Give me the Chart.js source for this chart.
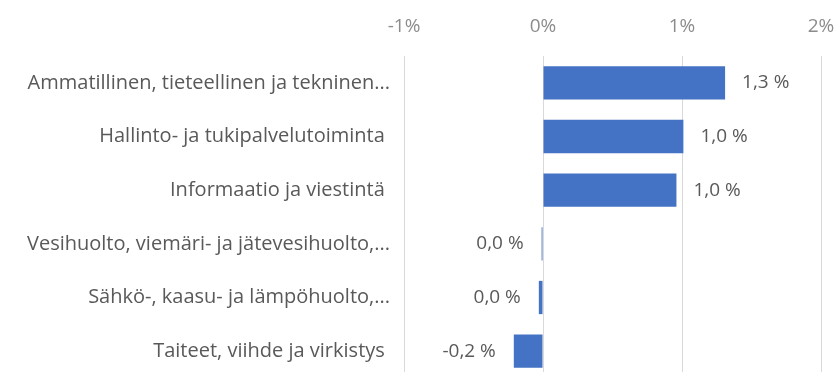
<!DOCTYPE html>
<html>
<head>
<meta charset="utf-8">
<script src="https://cdn.jsdelivr.net/npm/chart.js@4"></script>
<style>
    html, body { margin: 0; padding: 0; background: #fff; overflow: hidden; }
    canvas { display: block; }
</style>
</head>
<body>
<canvas id="growthChart" width="837" height="378"></canvas>
<script>
// Toimialat ja muutos (%)
const categories = [
    'Ammatillinen, tieteellinen ja tekninen...',
    'Hallinto- ja tukipalvelutoiminta ',
    'Informaatio ja viestintä ',
    'Vesihuolto, viemäri- ja jätevesihuolto,...',
    'Sähkö-, kaasu- ja lämpöhuolto,...',
    'Taiteet, viihde ja virkistys '
];
const changes = [1.31, 1.01, 0.96, -0.01, -0.03, -0.21];
const xTicks = [-1, 0, 1, 2];

const fontFamily = '"Open Sans", "Liberation Sans", sans-serif';

function fmtPct(v) {
    let s = v.toFixed(1);
    if (s === '-0.0') s = '0.0';
    return s.replace('.', ',') + ' %';
}

// Value labels next to bar ends
const valueLabels = {
    id: 'valueLabels',
    afterDatasetsDraw(chart) {
        const ctx = chart.ctx;
        const meta = chart.getDatasetMeta(0);
        ctx.save();
        ctx.font = '19px ' + fontFamily;
        ctx.fillStyle = '#595959';
        ctx.textBaseline = 'middle';
        meta.data.forEach((bar, i) => {
            const v = changes[i];
            const text = fmtPct(v);
            if (v >= 0) {
                ctx.textAlign = 'left';
                ctx.fillText(text, bar.x + 17, bar.y);
            } else {
                ctx.textAlign = 'right';
                ctx.fillText(text, bar.x - 18, bar.y);
            }
        });
        ctx.restore();
    }
};

const chart = new Chart(document.getElementById('growthChart'), {
    type: 'bar',
    data: {
        labels: categories,
        datasets: [{
            data: changes,
            backgroundColor: '#4472C4',
            borderWidth: 0,
            categoryPercentage: 1,
            barPercentage: 0.62
        }]
    },
    options: {
        indexAxis: 'y',
        responsive: false,
        animation: false,
        layout: { padding: { top: 0, right: 16, left: 0, bottom: 0 } },
        plugins: {
            legend: { display: false },
            tooltip: { enabled: false }
        },
        scales: {
            x: {
                position: 'top',
                min: xTicks[0],
                max: xTicks[xTicks.length - 1],
                afterBuildTicks: scale => {
                    scale.ticks = xTicks.map(v => ({ value: v }));
                },
                afterFit: scale => {
                    scale.height = 56;
                    scale.paddingLeft = 0;
                    scale.paddingRight = 0;
                },
                grid: { color: '#d9d9d9', drawTicks: false },
                border: { display: false },
                ticks: {
                    color: '#8c8c8c',
                    font: { family: fontFamily, size: 19 },
                    padding: 18,
                    maxRotation: 0,
                    callback: v => v + '%'
                }
            },
            y: {
                afterFit: scale => {
                    scale.width = 404;
                    scale.paddingTop = 0;
                    scale.paddingBottom = 0;
                },
                grid: { display: false, drawTicks: false },
                border: { display: false },
                ticks: {
                    color: '#595959',
                    font: { family: fontFamily, size: 20 },
                    padding: 14
                }
            }
        }
    },
    plugins: [valueLabels]
});
</script>
</body>
</html>
